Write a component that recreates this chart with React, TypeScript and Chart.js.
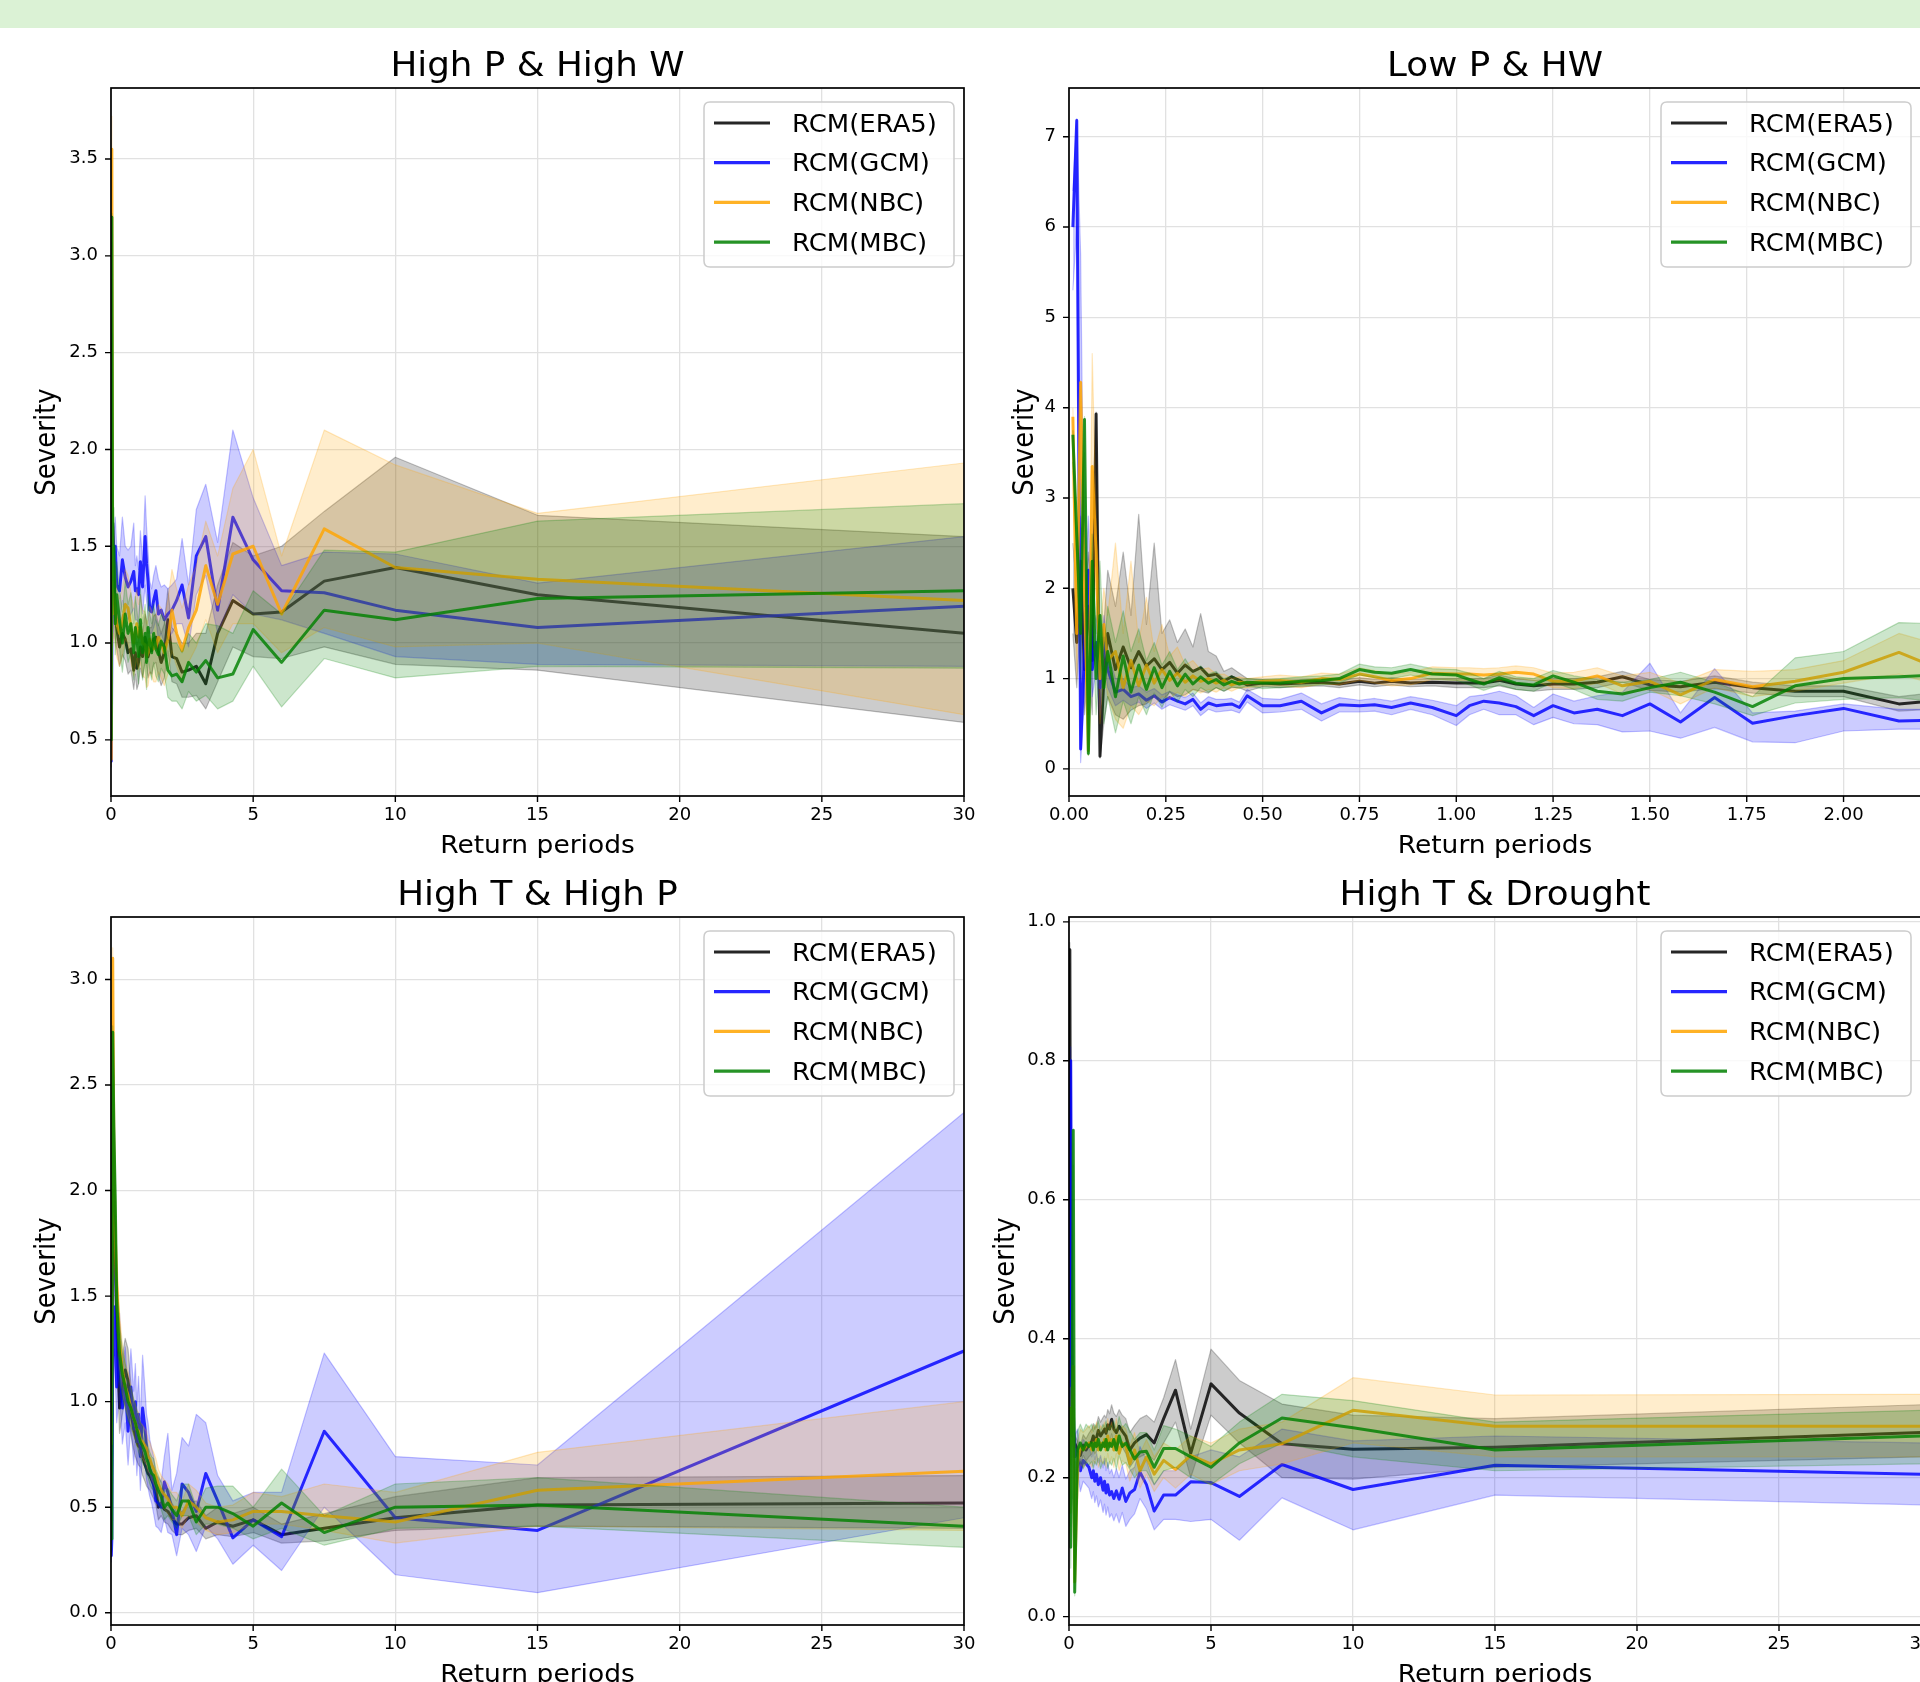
import React, { useEffect, useRef } from "react";
import { Chart, registerables } from "chart.js";

Chart.register(...registerables);

const FONT = '"DejaVu Sans", "Liberation Sans", sans-serif';

// ---------- categories / labels ----------
const MODELS = ["RCM(ERA5)", "RCM(GCM)", "RCM(NBC)", "RCM(MBC)"];
const MODEL_RGB = ["0,0,0", "0,0,255", "255,165,0", "0,128,0"];
const X_LABEL = "Return periods";
const Y_LABEL = "Severity";

// ---------- tick values ----------
const X_TICKS_YEARS = [0, 5, 10, 15, 20, 25, 30];
const X_TICKS_SHORT = [0, 0.25, 0.5, 0.75, 1, 1.25, 1.5, 1.75, 2];
const Y_TICKS_TL = [0.5, 1, 1.5, 2, 2.5, 3, 3.5];
const Y_TICKS_TR = [0, 1, 2, 3, 4, 5, 6, 7];
const Y_TICKS_BL = [0, 0.5, 1, 1.5, 2, 2.5, 3];
const Y_TICKS_BR = [0, 0.2, 0.4, 0.6, 0.8, 1];

// ---------- return periods (x) ----------
const XS_A = [30, 15, 10, 7.5, 6, 5, 4.286, 3.75, 3.333, 3.0,
  2.727, 2.5, 2.308, 2.143, 2.0, 1.875, 1.765, 1.667, 1.579, 1.5,
  1.429, 1.364, 1.304, 1.25, 1.2, 1.111, 1.034, 0.968, 0.909, 0.857,
  0.8, 0.7, 0.6, 0.5, 0.4, 0.3, 0.2, 0.15, 0.1, 0.06,
  0.03, 0.01];
const XS_B = [2.308, 2.143, 2.0, 1.875, 1.765, 1.667, 1.579, 1.5, 1.429, 1.364,
  1.304, 1.25, 1.2, 1.154, 1.111, 1.071, 1.034, 1.0, 0.938, 0.882,
  0.833, 0.789, 0.75, 0.698, 0.652, 0.6, 0.545, 0.5,
  0.46, 0.44,
  0.42, 0.40, 0.38, 0.36, 0.34, 0.32, 0.30, 0.28, 0.26, 0.24,
  0.22, 0.20, 0.18, 0.16, 0.14, 0.12,
  0.10, 0.09, 0.08, 0.07,
  0.06, 0.05, 0.04, 0.03, 0.02, 0.01];

// ---------- High P & High W ----------
const TL_ERA5 = [1.05,1.25,1.39,1.32,1.16,1.15,1.22,1.05,0.79,0.88, 0.86,0.85,0.92,0.93,1.12,0.95,0.90,0.96,1.03,1.02, 0.96,0.97,0.93,1.00,1.03,0.93,0.98,0.90,0.87,0.95, 0.86,0.97,0.95,1.02,1.05,0.98,1.08,1.15,1.40,1.62, 1.10,0.95];
const TL_ERA5_HI = [1.55,1.66,1.96,1.68,1.50,1.45,1.52,1.30,1.05,1.05, 1.00,1.00,1.05,1.08,1.28,1.10,1.05,1.10,1.15,1.14, 1.08,1.08,1.05,1.12,1.15,1.05,1.10,1.02,0.99,1.06, 0.98,1.08,1.06,1.12,1.15,1.08,1.18,1.25,1.55,1.70, 1.25,1.05];
const TL_ERA5_LO = [0.59,0.86,0.89,0.98,0.92,0.93,0.98,0.80,0.66,0.73, 0.72,0.72,0.79,0.80,0.96,0.82,0.78,0.83,0.90,0.89, 0.84,0.85,0.82,0.88,0.91,0.82,0.87,0.79,0.76,0.84, 0.76,0.86,0.84,0.91,0.94,0.88,0.97,1.03,1.25,1.50, 0.95,0.85];
const TL_GCM = [1.19,1.08,1.17,1.26,1.27,1.43,1.65,1.17,1.55,1.45, 1.13,1.30,1.22,1.17,1.15,1.12,1.17,1.15,1.27,1.22, 1.16,1.17,1.32,1.41,1.55,1.29,1.42,1.25,1.28,1.27, 1.37,1.32,1.29,1.34,1.43,1.27,1.30,1.50,1.36,1.55, 1.00,0.39];
const TL_GCM_HI = [1.55,1.31,1.46,1.47,1.40,1.75,2.10,1.52,1.82,1.69, 1.30,1.54,1.33,1.30,1.28,1.30,1.29,1.33,1.40,1.35, 1.28,1.32,1.47,1.60,1.76,1.42,1.58,1.38,1.45,1.40, 1.62,1.50,1.48,1.50,1.65,1.45,1.50,1.65,1.55,1.70, 1.30,0.45];
const TL_GCM_LO = [0.88,0.89,0.93,1.05,1.12,1.15,1.25,1.05,1.35,1.25, 0.98,1.10,1.10,1.05,1.03,1.00,1.05,1.02,1.12,1.08, 1.05,1.05,1.15,1.22,1.30,1.15,1.25,1.10,1.12,1.12, 1.18,1.15,1.12,1.15,1.22,1.10,1.12,1.30,1.15,1.30, 0.90,0.36];
const TL_NBC = [1.22,1.33,1.39,1.59,1.15,1.50,1.46,1.20,1.40,1.17, 1.08,0.96,1.05,1.17,1.02,0.95,1.00,1.03,0.98,0.97, 1.00,1.02,0.95,0.93,0.99,1.00,1.08,1.03,1.10,1.06, 1.00,1.08,1.18,1.20,1.10,1.05,1.10,1.18,1.25,1.15, 3.55,0.40];
const TL_NBC_HI = [1.93,1.67,1.92,2.10,1.45,2.00,1.80,1.45,1.63,1.40, 1.30,1.18,1.28,1.38,1.22,1.12,1.18,1.20,1.15,1.14, 1.17,1.19,1.12,1.10,1.16,1.17,1.25,1.20,1.28,1.24, 1.18,1.26,1.35,1.38,1.28,1.23,1.28,1.38,1.45,1.35, 3.72,0.45];
const TL_NBC_LO = [0.63,1.00,0.98,1.08,0.95,1.10,1.10,0.95,1.12,0.98, 0.90,0.80,0.88,0.96,0.84,0.78,0.82,0.85,0.80,0.80, 0.83,0.85,0.78,0.77,0.82,0.83,0.90,0.86,0.92,0.88, 0.83,0.90,1.00,1.02,0.93,0.88,0.93,1.00,1.05,0.98, 3.00,0.36];
const TL_MBC = [1.27,1.23,1.12,1.17,0.90,1.07,0.84,0.82,0.91,0.85, 0.90,0.80,0.84,0.83,0.86,0.98,1.01,0.94,0.97,1.05, 0.95,1.00,1.08,0.90,1.05,0.95,1.12,0.93,1.02,1.08, 0.95,1.10,1.05,1.15,1.00,1.12,1.25,1.10,1.50,1.35, 3.20,0.50];
const TL_MBC_HI = [1.72,1.63,1.47,1.48,1.15,1.27,1.05,1.09,1.10,1.00, 1.05,0.95,1.00,1.00,1.02,1.12,1.15,1.09,1.12,1.20, 1.10,1.15,1.25,1.06,1.20,1.10,1.28,1.08,1.18,1.24, 1.10,1.26,1.20,1.32,1.16,1.28,1.42,1.28,1.70,1.55, 3.22,0.60];
const TL_MBC_LO = [0.87,0.88,0.82,0.92,0.67,0.88,0.70,0.66,0.73,0.70, 0.75,0.66,0.70,0.70,0.72,0.84,0.87,0.80,0.83,0.90, 0.81,0.86,0.92,0.76,0.90,0.81,0.97,0.79,0.87,0.93, 0.81,0.95,0.90,1.00,0.85,0.97,1.08,0.94,1.30,1.15, 2.60,0.45];

// ---------- Low P & HW ----------
const TR_ERA5 = [0.78,0.72,0.86,0.86,0.90,0.96,0.91,0.93,1.02,0.96, 0.94,0.94,0.92,0.94,0.98,0.95,0.95,0.95,0.96,0.95, 0.97,0.95,0.97,0.94,0.96,0.95,0.94,0.95, 0.93,0.98, 1.02,0.97,1.05,1.03,1.12,1.08,1.15,1.06,1.18,1.10, 1.22,1.14,1.30,1.12,1.35,1.10, 1.5,1.0,0.14,3.93, 1.2,1.8,1.1,2.3,1.4,2.0];
const TR_ERA5_HI = [0.88,0.80,0.92,0.92,0.96,1.03,0.97,0.99,1.08,1.02, 1.00,1.00,0.98,1.00,1.04,1.00,1.00,1.00,1.00,0.99, 1.01,0.99,1.01,0.98,1.00,0.99,0.98,0.99, 1.00,1.06, 1.12,1.08,1.25,1.30,1.72,1.35,1.55,1.40,1.65,1.50, 2.50,1.60,2.82,1.70,2.40,1.80, 2.2,1.6,0.5,3.95, 1.9,2.4,1.8,2.8,2.0,2.5];
const TR_ERA5_LO = [0.68,0.64,0.80,0.80,0.84,0.89,0.85,0.87,0.96,0.90, 0.88,0.88,0.86,0.88,0.92,0.90,0.90,0.90,0.92,0.91, 0.93,0.91,0.93,0.90,0.92,0.91,0.90,0.91, 0.86,0.90, 0.90,0.86,0.90,0.84,0.86,0.88,0.82,0.80,0.85,0.75, 0.80,0.72,0.70,0.65,0.55,0.60, 0.8,0.5,0.12,3.5, 0.6,1.2,0.6,1.7,0.9,1.5];
const TR_GCM = [0.55,0.53,0.67,0.59,0.505,0.79,0.52,0.72,0.59,0.66, 0.62,0.70,0.59,0.69,0.73,0.75,0.70,0.59,0.68,0.73, 0.68,0.71,0.70,0.71,0.62,0.75,0.70,0.70, 0.81,0.68, 0.72,0.71,0.70,0.73,0.66,0.77,0.72,0.75,0.79,0.74, 0.81,0.76,0.83,0.80,0.88,0.85, 1.1,1.45,0.9,1.4, 1.1,2.2,1.3,0.22,7.18,6.0];
const TR_GCM_HI = [0.66,0.66,0.72,0.64,0.62,1.11,0.62,1.17,0.85,0.81, 0.75,0.83,0.68,0.81,0.86,0.82,0.80,0.70,0.76,0.80, 0.75,0.78,0.76,0.79,0.72,0.84,0.77,0.78, 0.88,0.74, 0.78,0.77,0.77,0.80,0.73,0.84,0.79,0.82,0.86,0.82, 0.89,0.85,0.92,0.90,1.00,1.00, 1.3,1.7,1.2,1.7, 1.5,2.8,1.8,5.7,7.2,6.4];
const TR_GCM_LO = [0.44,0.44,0.42,0.29,0.30,0.46,0.34,0.42,0.41,0.49, 0.50,0.57,0.49,0.60,0.60,0.66,0.60,0.48,0.60,0.66, 0.60,0.64,0.63,0.63,0.53,0.66,0.63,0.62, 0.74,0.62, 0.65,0.64,0.63,0.66,0.59,0.70,0.65,0.68,0.71,0.66, 0.73,0.67,0.74,0.70,0.76,0.70, 0.9,1.2,0.6,1.1, 0.8,1.6,0.8,0.07,6.0,5.3];
const TR_NBC = [1.00,1.29,1.07,0.97,0.91,0.99,0.82,0.97,0.92,1.03, 0.97,0.97,1.05,1.07,1.05,1.04,1.05,1.05,1.06,1.00, 0.98,1.02,1.05,0.99,1.00,0.96,0.98,0.97, 0.95,0.96, 0.93,0.98,0.95,1.00,0.97,1.03,0.96,1.06,0.98,1.10, 0.95,1.15,0.92,1.20,0.90,1.30, 1.2,1.6,1.0,2.4, 3.35,0.2,2.0,4.28,1.5,3.9];
const TR_NBC_HI = [1.30,1.50,1.20,1.10,1.08,1.10,0.95,1.07,1.03,1.12, 1.07,1.06,1.12,1.14,1.12,1.11,1.12,1.12,1.13,1.07, 1.05,1.09,1.12,1.05,1.06,1.02,1.04,1.02, 1.00,1.02, 1.00,1.05,1.05,1.12,1.10,1.20,1.15,1.35,1.25,1.60, 1.30,1.90,1.40,2.30,1.50,2.50, 1.7,2.0,1.5,2.8, 4.6,0.6,2.7,4.3,2.2,4.0];
const TR_NBC_LO = [0.85,1.05,0.95,0.86,0.80,0.90,0.72,0.88,0.83,0.95, 0.89,0.90,0.98,1.00,0.98,0.97,0.98,0.98,0.99,0.93, 0.92,0.95,0.98,0.93,0.94,0.90,0.92,0.92, 0.90,0.90, 0.86,0.90,0.85,0.88,0.84,0.88,0.80,0.85,0.78,0.80, 0.70,0.75,0.60,0.70,0.45,0.55, 0.8,1.1,0.5,1.9, 2.6,0.15,1.4,3.3,1.0,3.3];
const TR_MBC = [1.05,1.02,1.00,0.92,0.69,0.85,0.96,0.90,0.83,0.86, 0.96,1.03,0.93,0.95,1.01,0.94,0.99,1.04,1.05,1.10, 1.06,1.07,1.10,1.00,0.98,0.97,0.95,0.95, 0.96,0.94, 0.97,0.93,0.99,0.95,1.02,0.94,1.05,0.92,1.08,0.90, 1.12,0.88,1.15,0.85,1.25,0.80, 1.3,0.9,1.7,1.0, 2.3,0.17,3.87,1.5,2.6,3.7];
const TR_MBC_HI = [1.60,1.62,1.30,1.23,0.80,0.96,1.07,0.99,0.96,0.99, 1.03,1.09,1.00,1.02,1.08,1.00,1.06,1.10,1.11,1.16, 1.12,1.13,1.16,1.05,1.03,1.02,1.00,0.99, 1.00,0.99, 1.03,1.00,1.08,1.05,1.14,1.08,1.22,1.10,1.30,1.15, 1.40,1.20,1.55,1.30,1.75,1.40, 1.8,1.3,2.3,1.5, 2.6,0.6,3.9,2.0,2.7,3.75];
const TR_MBC_LO = [0.70,0.79,0.77,0.73,0.59,0.72,0.81,0.85,0.75,0.77, 0.88,0.96,0.86,0.88,0.93,0.87,0.93,0.98,0.99,1.04, 1.00,1.01,1.04,0.95,0.93,0.92,0.90,0.89, 0.92,0.89, 0.91,0.86,0.90,0.85,0.90,0.80,0.88,0.74,0.86,0.68, 0.84,0.60,0.80,0.50,0.75,0.40, 0.8,0.5,1.2,0.6, 1.8,0.15,3.5,1.0,2.3,3.4];

// ---------- High T & High P ----------
const BL_ERA5 = [0.52,0.51,0.45,0.40,0.37,0.44,0.41,0.43,0.40,0.46, 0.45,0.42,0.42,0.45,0.48,0.49,0.52,0.50,0.58,0.61, 0.63,0.65,0.66,0.68,0.70,0.74,0.78,0.79,0.81,0.84, 0.87,0.95,1.10,1.15,1.07,0.97,1.39,1.71,1.90,2.00, 0.90,0.50];
const BL_ERA5_HI = [0.65,0.64,0.55,0.47,0.42,0.50,0.47,0.50,0.46,0.53, 0.52,0.48,0.48,0.52,0.55,0.56,0.59,0.57,0.66,0.69, 0.71,0.73,0.74,0.77,0.80,0.84,0.89,0.90,0.92,0.96, 0.99,1.08,1.25,1.30,1.22,1.12,1.58,1.90,2.10,2.20, 1.05,0.60];
const BL_ERA5_LO = [0.40,0.41,0.39,0.34,0.33,0.38,0.36,0.37,0.35,0.40, 0.39,0.37,0.37,0.39,0.42,0.43,0.46,0.44,0.51,0.54, 0.56,0.58,0.59,0.60,0.62,0.65,0.69,0.70,0.72,0.74, 0.77,0.84,0.97,1.01,0.94,0.85,1.22,1.52,1.70,1.80, 0.75,0.42];
const BL_GCM = [1.24,0.39,0.45,0.86,0.36,0.44,0.355,0.53,0.66,0.48, 0.57,0.61,0.37,0.49,0.57,0.62,0.50,0.52,0.53,0.60, 0.65,0.68,0.74,0.78,0.87,0.97,0.74,0.94,0.81,1.00, 0.87,1.07,0.86,1.08,0.97,1.23,1.07,1.31,1.45,1.20, 0.35,0.27];
const BL_GCM_HI = [2.37,0.70,0.74,1.23,0.57,0.57,0.53,0.65,0.90,0.94, 0.79,0.83,0.66,0.58,0.85,0.74,0.62,0.64,0.65,0.74, 0.78,0.82,0.90,0.94,1.05,1.22,0.92,1.12,0.98,1.18, 1.05,1.25,1.04,1.26,1.15,1.42,1.25,1.50,1.65,1.40, 0.40,0.30];
const BL_GCM_LO = [0.45,0.095,0.18,0.50,0.20,0.32,0.23,0.35,0.41,0.29, 0.37,0.40,0.27,0.37,0.38,0.45,0.38,0.40,0.41,0.47, 0.52,0.55,0.59,0.63,0.70,0.78,0.58,0.77,0.65,0.82, 0.70,0.89,0.70,0.90,0.80,1.04,0.90,1.12,1.25,1.00, 0.30,0.24];
const BL_NBC = [0.67,0.58,0.43,0.46,0.48,0.48,0.44,0.43,0.45,0.50, 0.53,0.46,0.50,0.50,0.54,0.56,0.58,0.61,0.65,0.68, 0.70,0.73,0.74,0.78,0.79,0.81,0.82,0.86,0.87,0.90, 0.92,0.97,1.03,1.07,1.15,1.29,1.55,1.79,2.20,3.10, 1.20,0.80];
const BL_NBC_HI = [1.00,0.76,0.57,0.61,0.55,0.57,0.51,0.50,0.52,0.58, 0.61,0.53,0.57,0.57,0.61,0.63,0.65,0.68,0.73,0.76, 0.78,0.81,0.82,0.86,0.87,0.89,0.90,0.95,0.96,0.99, 1.01,1.07,1.14,1.18,1.27,1.42,1.70,1.95,2.45,3.15, 1.40,0.95];
const BL_NBC_LO = [0.39,0.41,0.33,0.39,0.42,0.42,0.38,0.37,0.39,0.43, 0.46,0.40,0.44,0.44,0.47,0.49,0.51,0.54,0.58,0.61, 0.63,0.66,0.67,0.70,0.71,0.73,0.74,0.78,0.79,0.82, 0.84,0.88,0.93,0.97,1.04,1.16,1.40,1.60,1.95,2.80, 1.00,0.55];
const BL_MBC = [0.41,0.51,0.50,0.38,0.52,0.41,0.47,0.50,0.50,0.43, 0.53,0.53,0.46,0.49,0.52,0.50,0.55,0.58,0.61,0.65, 0.66,0.68,0.71,0.73,0.76,0.79,0.81,0.84,0.87,0.90, 0.92,0.97,1.00,1.07,1.13,1.23,1.47,1.95,2.30,2.75, 0.35,0.40];
const BL_MBC_HI = [0.50,0.64,0.61,0.46,0.68,0.50,0.60,0.60,0.59,0.50, 0.61,0.61,0.53,0.56,0.59,0.57,0.62,0.65,0.68,0.73, 0.74,0.76,0.79,0.81,0.84,0.88,0.90,0.93,0.96,0.99, 1.01,1.07,1.10,1.18,1.25,1.36,1.62,2.10,2.50,2.78, 0.40,0.45];
const BL_MBC_LO = [0.31,0.41,0.40,0.32,0.40,0.35,0.40,0.42,0.42,0.37, 0.46,0.46,0.40,0.43,0.46,0.44,0.49,0.52,0.55,0.58, 0.59,0.61,0.64,0.66,0.69,0.71,0.73,0.76,0.79,0.82, 0.84,0.88,0.91,0.97,1.02,1.11,1.33,1.80,2.10,2.50, 0.30,0.35];

// ---------- High T & Drought ----------
const BR_ERA5 = [0.265,0.244,0.241,0.249,0.293,0.335,0.235,0.326,0.285,0.25, 0.262,0.257,0.25,0.24,0.26,0.267,0.274,0.265,0.27,0.284, 0.27,0.276,0.264,0.27,0.266,0.26,0.268,0.257,0.252,0.26, 0.252,0.247,0.24,0.247,0.232,0.24,0.25,0.27,0.26,0.40, 0.96,0.55];
const BR_ERA5_HI = [0.305,0.285,0.29,0.306,0.34,0.385,0.27,0.37,0.315,0.28, 0.29,0.285,0.275,0.265,0.285,0.29,0.298,0.288,0.293,0.305, 0.292,0.298,0.286,0.29,0.287,0.28,0.288,0.276,0.27,0.278, 0.27,0.264,0.256,0.262,0.246,0.253,0.262,0.283,0.275,0.43, 0.97,0.58];
const BR_ERA5_LO = [0.23,0.215,0.198,0.20,0.25,0.29,0.20,0.28,0.25,0.225, 0.235,0.23,0.225,0.215,0.235,0.244,0.25,0.242,0.247,0.263, 0.248,0.254,0.242,0.25,0.245,0.24,0.248,0.238,0.234,0.242, 0.234,0.23,0.224,0.232,0.218,0.227,0.238,0.257,0.245,0.37, 0.94,0.52];
const BR_GCM = [0.205,0.218,0.183,0.219,0.173,0.193,0.194,0.175,0.175,0.152, 0.19,0.208,0.183,0.178,0.166,0.185,0.169,0.181,0.17,0.18, 0.175,0.19,0.178,0.195,0.182,0.20,0.19,0.205,0.195,0.21, 0.20,0.215,0.22,0.225,0.21,0.24,0.23,0.30,0.40,0.80, 0.35,0.22];
const BR_GCM_HI = [0.25,0.26,0.253,0.27,0.23,0.24,0.23,0.21,0.21,0.19, 0.225,0.245,0.215,0.21,0.198,0.218,0.20,0.213,0.20,0.212, 0.206,0.222,0.21,0.228,0.214,0.232,0.222,0.236,0.226,0.24, 0.23,0.245,0.25,0.255,0.24,0.27,0.26,0.33,0.44,0.82, 0.40,0.25];
const BR_GCM_LO = [0.161,0.175,0.125,0.171,0.11,0.14,0.137,0.14,0.14,0.125, 0.155,0.17,0.148,0.14,0.13,0.15,0.135,0.148,0.138,0.148, 0.143,0.158,0.146,0.162,0.15,0.168,0.158,0.174,0.164,0.18, 0.17,0.185,0.19,0.195,0.18,0.21,0.20,0.27,0.36,0.75, 0.30,0.19];
const BR_NBC = [0.274,0.274,0.297,0.249,0.24,0.22,0.232,0.212,0.225,0.205, 0.23,0.21,0.24,0.22,0.245,0.25,0.235,0.26,0.24,0.255, 0.245,0.26,0.24,0.255,0.245,0.25,0.24,0.255,0.245,0.25, 0.24,0.25,0.245,0.24,0.245,0.22,0.05,0.36,0.25,0.30, 0.15,0.25];
const BR_NBC_HI = [0.32,0.319,0.344,0.28,0.27,0.25,0.26,0.24,0.25,0.23, 0.255,0.235,0.265,0.245,0.27,0.275,0.26,0.285,0.265,0.28, 0.27,0.285,0.265,0.28,0.27,0.275,0.265,0.28,0.27,0.275, 0.265,0.275,0.27,0.265,0.27,0.25,0.07,0.40,0.28,0.33, 0.18,0.28];
const BR_NBC_LO = [0.23,0.23,0.25,0.22,0.21,0.19,0.205,0.185,0.20,0.18, 0.205,0.185,0.215,0.195,0.22,0.225,0.21,0.235,0.215,0.23, 0.22,0.235,0.215,0.23,0.22,0.225,0.215,0.23,0.22,0.225, 0.215,0.225,0.22,0.215,0.22,0.19,0.04,0.32,0.22,0.27, 0.12,0.22];
const BR_MBC = [0.26,0.24,0.272,0.286,0.25,0.215,0.23,0.242,0.242,0.215, 0.238,0.237,0.227,0.24,0.25,0.245,0.26,0.24,0.255,0.245, 0.25,0.24,0.255,0.245,0.25,0.24,0.255,0.245,0.25,0.24, 0.25,0.245,0.25,0.24,0.25,0.24,0.035,0.70,0.22,0.10, 0.30,0.20];
const BR_MBC_HI = [0.297,0.28,0.311,0.32,0.28,0.245,0.26,0.27,0.275,0.24, 0.265,0.265,0.255,0.268,0.278,0.272,0.288,0.268,0.282,0.272, 0.277,0.267,0.282,0.272,0.277,0.267,0.282,0.272,0.277,0.267, 0.277,0.272,0.277,0.267,0.277,0.267,0.05,0.70,0.25,0.13, 0.33,0.23];
const BR_MBC_LO = [0.22,0.21,0.23,0.25,0.22,0.19,0.20,0.215,0.21,0.19, 0.21,0.21,0.20,0.212,0.222,0.218,0.232,0.212,0.228,0.218, 0.223,0.213,0.228,0.218,0.223,0.213,0.228,0.218,0.223,0.213, 0.223,0.218,0.223,0.213,0.223,0.213,0.03,0.65,0.19,0.07, 0.27,0.17];

// ---------- panel layout (styles / positions) ----------
type Box = { x: number; y: number; w: number; h: number };
type Area = { l: number; t: number; r: number; b: number };
type PanelDef = {
  id: string; title: string; xs: number[]; series: number[][][];
  xMin: number; xMax: number; yMin: number; yMax: number;
  xTicks: number[]; yTicks: number[]; xDec: number; yDec: number;
  box: Box; area: Area; yLabelGap: number;
};

const PANELS: PanelDef[] = [
  {
    id: "tl", title: "High P & High W", xs: XS_A,
    series: [[TL_ERA5, TL_ERA5_HI, TL_ERA5_LO], [TL_GCM, TL_GCM_HI, TL_GCM_LO], [TL_NBC, TL_NBC_HI, TL_NBC_LO], [TL_MBC, TL_MBC_HI, TL_MBC_LO]],
    xMin: 0, xMax: 30, yMin: 0.21, yMax: 3.867, xTicks: X_TICKS_YEARS, yTicks: Y_TICKS_TL, xDec: 0, yDec: 1,
    box: { x: 0, y: 30, w: 1000, h: 838 }, area: { l: 111, t: 88, r: 964, b: 796 }, yLabelGap: 63,
  },
  {
    id: "tr", title: "Low P & HW", xs: XS_B,
    series: [[TR_ERA5, TR_ERA5_HI, TR_ERA5_LO], [TR_GCM, TR_GCM_HI, TR_GCM_LO], [TR_NBC, TR_NBC_HI, TR_NBC_LO], [TR_MBC, TR_MBC_HI, TR_MBC_LO]],
    xMin: 0, xMax: 2.2, yMin: -0.30, yMax: 7.54, xTicks: X_TICKS_SHORT, yTicks: Y_TICKS_TR, xDec: 2, yDec: 0,
    box: { x: 980, y: 30, w: 960, h: 838 }, area: { l: 1069, t: 88, r: 1921, b: 796 }, yLabelGap: 43,
  },
  {
    id: "bl", title: "High T & High P", xs: XS_A,
    series: [[BL_ERA5, BL_ERA5_HI, BL_ERA5_LO], [BL_GCM, BL_GCM_HI, BL_GCM_LO], [BL_NBC, BL_NBC_HI, BL_NBC_LO], [BL_MBC, BL_MBC_HI, BL_MBC_LO]],
    xMin: 0, xMax: 30, yMin: -0.058, yMax: 3.296, xTicks: X_TICKS_YEARS, yTicks: Y_TICKS_BL, xDec: 0, yDec: 1,
    box: { x: 0, y: 868, w: 1000, h: 814 }, area: { l: 111, t: 917, r: 964, b: 1625 }, yLabelGap: 63,
  },
  {
    id: "br", title: "High T & Drought", xs: XS_A,
    series: [[BR_ERA5, BR_ERA5_HI, BR_ERA5_LO], [BR_GCM, BR_GCM_HI, BR_GCM_LO], [BR_NBC, BR_NBC_HI, BR_NBC_LO], [BR_MBC, BR_MBC_HI, BR_MBC_LO]],
    xMin: 0, xMax: 30, yMin: -0.012, yMax: 1.007, xTicks: X_TICKS_YEARS, yTicks: Y_TICKS_BR, xDec: 0, yDec: 1,
    box: { x: 980, y: 868, w: 960, h: 814 }, area: { l: 1069, t: 917, r: 1921, b: 1625 }, yLabelGap: 62,
  },
];

const Y_AXIS_W = 40;
const X_AXIS_H = 20;
const GRID = "#e1e1e1";

function drawText(ctx: CanvasRenderingContext2D, s: string, x: number, y: number, size: number,
  align: CanvasTextAlign, baseline: CanvasTextBaseline, hs = 1) {
  ctx.save();
  ctx.translate(x, y);
  ctx.scale(hs, 1);
  ctx.font = `${size}px ${FONT}`;
  ctx.textAlign = align;
  ctx.textBaseline = baseline;
  ctx.fillStyle = "#000";
  ctx.fillText(s, 0, 0);
  ctx.restore();
}

function PanelChart({ p }: { p: PanelDef }) {
  const ref = useRef<HTMLCanvasElement | null>(null);
  useEffect(() => {
    const canvas = ref.current;
    if (!canvas) return;
    const datasets: any[] = [];
    p.series.forEach((s, m) => {
      const [mean, hi, lo] = s;
      const c = MODEL_RGB[m];
      const base = 100 - m * 3;
      const common = { pointRadius: 0, pointHoverRadius: 0, tension: 0, clip: 0, borderJoinStyle: "round" };
      datasets.push({ ...common, label: MODELS[m], data: p.xs.map((x, i) => ({ x, y: mean[i] })), borderColor: `rgba(${c},0.82)`, borderWidth: 3, fill: false, order: base });
      datasets.push({ ...common, label: MODELS[m] + " hi", data: p.xs.map((x, i) => ({ x, y: hi[i] })), borderColor: `rgba(${c},0.24)`, borderWidth: 1.2, backgroundColor: `rgba(${c},0.2)`, fill: "+1", order: base - 1 });
      datasets.push({ ...common, label: MODELS[m] + " lo", data: p.xs.map((x, i) => ({ x, y: lo[i] })), borderColor: `rgba(${c},0.24)`, borderWidth: 1.2, fill: false, order: base - 2 });
    });

    const decor = {
      id: "decor_" + p.id,
      afterDraw(chart: any) {
        const ctx: CanvasRenderingContext2D = chart.ctx;
        const { left, top, right, bottom } = chart.chartArea;
        const xs = chart.scales.x;
        const ys = chart.scales.y;
        ctx.save();
        // spines
        ctx.strokeStyle = "#000";
        ctx.lineWidth = 1.7;
        ctx.strokeRect(left, top, right - left, bottom - top);
        // tick marks
        ctx.lineWidth = 1.4;
        ctx.beginPath();
        p.xTicks.forEach((v) => {
          const px = xs.getPixelForValue(v);
          ctx.moveTo(px, bottom);
          ctx.lineTo(px, bottom + 6);
        });
        p.yTicks.forEach((v) => {
          const py = ys.getPixelForValue(v);
          ctx.moveTo(left - 6, py);
          ctx.lineTo(left, py);
        });
        ctx.stroke();
        // tick labels
        p.xTicks.forEach((v) => {
          drawText(ctx, v.toFixed(p.xDec), xs.getPixelForValue(v), bottom + 24, 17, "center", "alphabetic", 1.06);
        });
        p.yTicks.forEach((v) => {
          drawText(ctx, v.toFixed(p.yDec), left - 13, ys.getPixelForValue(v), 17, "right", "middle", 1.06);
        });
        // axis titles
        drawText(ctx, X_LABEL, (left + right) / 2, bottom + 57, 25, "center", "alphabetic", 1.06);
        ctx.save();
        ctx.translate(left - p.yLabelGap, (top + bottom) / 2);
        ctx.rotate(-Math.PI / 2);
        ctx.scale(1, 1.06);
        ctx.font = `26px ${FONT}`;
        ctx.textAlign = "center";
        ctx.textBaseline = "middle";
        ctx.fillStyle = "#000";
        ctx.fillText(Y_LABEL, 0, 0);
        ctx.restore();
        // title
        drawText(ctx, p.title, (left + right) / 2, top - 12, 34, "center", "alphabetic", 1.05);
        // legend
        const bw = 250, bh = 165;
        const bx = right - 260, by = top + 14;
        ctx.beginPath();
        const r = 6;
        ctx.moveTo(bx + r, by);
        ctx.lineTo(bx + bw - r, by);
        ctx.quadraticCurveTo(bx + bw, by, bx + bw, by + r);
        ctx.lineTo(bx + bw, by + bh - r);
        ctx.quadraticCurveTo(bx + bw, by + bh, bx + bw - r, by + bh);
        ctx.lineTo(bx + r, by + bh);
        ctx.quadraticCurveTo(bx, by + bh, bx, by + bh - r);
        ctx.lineTo(bx, by + r);
        ctx.quadraticCurveTo(bx, by, bx + r, by);
        ctx.closePath();
        ctx.fillStyle = "rgba(255,255,255,0.8)";
        ctx.fill();
        ctx.strokeStyle = "#cccccc";
        ctx.lineWidth = 1.5;
        ctx.stroke();
        MODELS.forEach((name, i) => {
          const cy = by + 21 + i * 39.7;
          ctx.beginPath();
          ctx.moveTo(bx + 10, cy);
          ctx.lineTo(bx + 66, cy);
          ctx.strokeStyle = `rgba(${MODEL_RGB[i]},0.85)`;
          ctx.lineWidth = 3.2;
          ctx.stroke();
          drawText(ctx, name, bx + 88, cy + 8.5, 24, "left", "alphabetic", 1.08);
        });
        ctx.restore();
      },
    };

    const chart = new Chart(canvas, {
      type: "line",
      data: { datasets },
      options: {
        responsive: false,
        animation: false,
        devicePixelRatio: 1,
        layout: {
          padding: {
            left: p.area.l - p.box.x - Y_AXIS_W,
            top: p.area.t - p.box.y,
            right: p.box.x + p.box.w - p.area.r,
            bottom: p.box.y + p.box.h - p.area.b - X_AXIS_H,
          },
        },
        plugins: { legend: { display: false }, tooltip: { enabled: false }, title: { display: false } },
        scales: {
          x: {
            type: "linear", min: p.xMin, max: p.xMax,
            afterBuildTicks: (s: any) => { s.ticks = p.xTicks.map((v) => ({ value: v })); },
            afterFit: (s: any) => { s.height = X_AXIS_H; },
            ticks: { display: false },
            grid: { color: GRID, lineWidth: 1.3, drawTicks: false },
            border: { display: false },
          },
          y: {
            type: "linear", min: p.yMin, max: p.yMax,
            afterBuildTicks: (s: any) => { s.ticks = p.yTicks.map((v) => ({ value: v })); },
            afterFit: (s: any) => { s.width = Y_AXIS_W; },
            ticks: { display: false },
            grid: { color: GRID, lineWidth: 1.3, drawTicks: false },
            border: { display: false },
          },
        },
      } as any,
      plugins: [decor],
    });
    return () => chart.destroy();
  }, [p]);

  return (
    <canvas
      ref={ref}
      width={p.box.w}
      height={p.box.h}
      style={{ position: "absolute", left: p.box.x, top: p.box.y, width: p.box.w, height: p.box.h }}
    />
  );
}

export default function App() {
  return (
    <div style={{ position: "absolute", left: 0, top: 0, width: 1920, height: 1682, overflow: "hidden", background: "#ffffff" }}>
      <div style={{ position: "absolute", left: 0, top: 0, width: 1920, height: 28, background: "#dbf2d5" }} />
      {PANELS.map((p) => (
        <PanelChart key={p.id} p={p} />
      ))}
    </div>
  );
}
